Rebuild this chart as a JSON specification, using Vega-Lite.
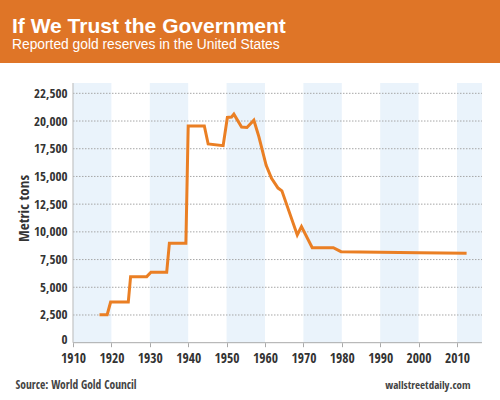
{
  "$schema": "https://vega.github.io/schema/vega-lite/v6.json",
  "width": 500,
  "height": 337,
  "autosize": {"type": "none"},
  "padding": {"top": 63, "left": 0, "right": 0, "bottom": 0},
  "background": "#df7527",
  "title": {
    "text": "If We Trust the Government",
    "subtitle": "Reported gold reserves in the United States",
    "anchor": "start",
    "frame": "group",
    "orient": "top",
    "dx": 12,
    "offset": 11,
    "font": "Liberation Sans",
    "fontSize": 21,
    "fontWeight": "bold",
    "color": "#ffffff",
    "subtitleFont": "Liberation Sans",
    "subtitleFontSize": 13.8,
    "subtitleFontWeight": "normal",
    "subtitleColor": "#ffffff",
    "subtitlePadding": 1
  },
  "config": {
    "view": {"fill": "#ffffff", "stroke": null},
    "axis": {
      "labelFont": "Open Sans Condensed, Liberation Sans, sans-serif",
      "titleFont": "Open Sans Condensed, Liberation Sans, sans-serif",
      "labelColor": "#333333",
      "titleColor": "#444444"
    }
  },
  "layer": [
    {
      "data": {"values": [
        {"from": 1910, "to": 1920},
        {"from": 1930, "to": 1940},
        {"from": 1950, "to": 1960},
        {"from": 1970, "to": 1980},
        {"from": 1990, "to": 2000},
        {"from": 2010, "to": 2016.5}
      ]},
      "mark": {"type": "rect", "fill": "#eaf3fb"},
      "encoding": {
        "x": {
          "field": "from", "type": "quantitative",
          "scale": {"domain": [1890.99, 2021.2], "nice": false, "zero": false},
          "axis": {
            "orient": "top", "labels": false, "ticks": false, "domain": false, "grid": false,
            "title": "wallstreetdaily.com",
            "titleX": 470, "titleY": 325,
            "titleAlign": "right", "titleBaseline": "alphabetic", "titleAnchor": null,
            "titleFontSize": 11, "titleFontWeight": "bold"
          }
        },
        "x2": {"field": "to"},
        "y": {"datum": 0, "type": "quantitative", "scale": {"domain": [-5170, 25235], "nice": false, "zero": false}, "axis": null},
        "y2": {"datum": 23430}
      }
    },
    {
      "data": {"values": [
        {"tons": 2500}, {"tons": 5000}, {"tons": 7500}, {"tons": 10000}, {"tons": 12500},
        {"tons": 15000}, {"tons": 17500}, {"tons": 20000}, {"tons": 22500}
      ]},
      "mark": {"type": "rule", "stroke": "#a6a6a6", "strokeWidth": 1, "strokeDash": [1.5, 1.5]},
      "encoding": {
        "x": {"datum": 1910, "type": "quantitative", "scale": {"domain": [1890.99, 2021.2], "nice": false, "zero": false}, "axis": null},
        "x2": {"datum": 2016.5},
        "y": {"field": "tons", "type": "quantitative", "scale": {"domain": [-5170, 25235], "nice": false, "zero": false}, "axis": null}
      }
    },
    {
      "data": {"values": [{}]},
      "mark": {"type": "rule", "stroke": "#a9a9a9", "strokeWidth": 1},
      "encoding": {
        "x": {"datum": 1910, "type": "quantitative", "scale": {"domain": [1890.99, 2021.2], "nice": false, "zero": false}, "axis": null},
        "x2": {"datum": 2016.5},
        "y": {"datum": 0, "type": "quantitative", "scale": {"domain": [-5170, 25235], "nice": false, "zero": false}, "axis": null}
      }
    },
    {
      "data": {"values": [{}]},
      "mark": {"type": "rule", "stroke": "#b9b9b9", "strokeWidth": 1},
      "encoding": {
        "x": {"datum": 1910, "type": "quantitative", "scale": {"domain": [1890.99, 2021.2], "nice": false, "zero": false}, "axis": null},
        "y": {"datum": 0, "type": "quantitative", "scale": {"domain": [-5170, 25235], "nice": false, "zero": false}, "axis": null},
        "y2": {"datum": 23430}
      }
    },
    {
      "data": {"values": [
        {"year": 1916.9, "tons": 2530},
        {"year": 1918.9, "tons": 2530},
        {"year": 1919.8, "tons": 3670},
        {"year": 1924.4, "tons": 3670},
        {"year": 1925.0, "tons": 5960},
        {"year": 1929.2, "tons": 5960},
        {"year": 1930.3, "tons": 6350},
        {"year": 1934.4, "tons": 6350},
        {"year": 1935.1, "tons": 8970},
        {"year": 1939.4, "tons": 8970},
        {"year": 1940.0, "tons": 19560},
        {"year": 1944.2, "tons": 19560},
        {"year": 1945.2, "tons": 17930},
        {"year": 1949.1, "tons": 17780},
        {"year": 1950.2, "tons": 20320},
        {"year": 1951.3, "tons": 20360},
        {"year": 1951.9, "tons": 20620},
        {"year": 1953.9, "tons": 19450},
        {"year": 1955.3, "tons": 19420},
        {"year": 1957.1, "tons": 20070},
        {"year": 1958.4, "tons": 18600},
        {"year": 1960.3, "tons": 16000},
        {"year": 1961.7, "tons": 14830},
        {"year": 1963.4, "tons": 13950},
        {"year": 1964.4, "tons": 13700},
        {"year": 1968.4, "tons": 9720},
        {"year": 1969.5, "tons": 10480},
        {"year": 1972.3, "tons": 8570},
        {"year": 1977.8, "tons": 8570},
        {"year": 1979.8, "tons": 8210},
        {"year": 1990.0, "tons": 8160},
        {"year": 2000.0, "tons": 8120},
        {"year": 2012.5, "tons": 8070}
      ]},
      "mark": {"type": "line", "stroke": "#ea7f24", "strokeWidth": 3},
      "encoding": {
        "x": {
          "field": "year", "type": "quantitative",
          "scale": {"domain": [1890.99, 2021.2], "nice": false, "zero": false},
          "axis": {
            "orient": "bottom", "offset": -57.3,
            "values": [1910, 1920, 1930, 1940, 1950, 1960, 1970, 1980, 1990, 2000, 2010],
            "format": "d",
            "domain": false, "grid": false,
            "ticks": true, "tickSize": 4, "tickColor": "#a9a9a9",
            "labelPadding": 5, "labelFontSize": 13.5, "labelFontWeight": "bold",
            "title": "Source: World Gold Council",
            "titleX": 15, "titleY": 45.3,
            "titleAlign": "left", "titleBaseline": "alphabetic", "titleAnchor": null,
            "titleFontSize": 11.5, "titleFontWeight": "bold"
          }
        },
        "y": {
          "field": "tons", "type": "quantitative",
          "scale": {"domain": [-5170, 25235], "nice": false, "zero": false},
          "axis": {
            "orient": "left", "offset": -73,
            "values": [0, 2500, 5000, 7500, 10000, 12500, 15000, 17500, 20000, 22500],
            "format": ",d",
            "domain": false, "grid": false, "ticks": false,
            "labelPadding": 6, "labelFontSize": 13, "labelFontWeight": "bold",
            "labelOffset": {"condition": {"test": "datum.value === 0", "value": -3}, "value": 0},
            "title": "Metric tons",
            "titleX": -45, "titleY": 145, "titleAngle": 270,
            "titleAlign": "center", "titleBaseline": "alphabetic",
            "titleFontSize": 15, "titleFontWeight": "bold", "titleColor": "#333333"
          }
        }
      }
    }
  ],
  "resolve": {"axis": {"x": "independent", "y": "independent"}}
}
